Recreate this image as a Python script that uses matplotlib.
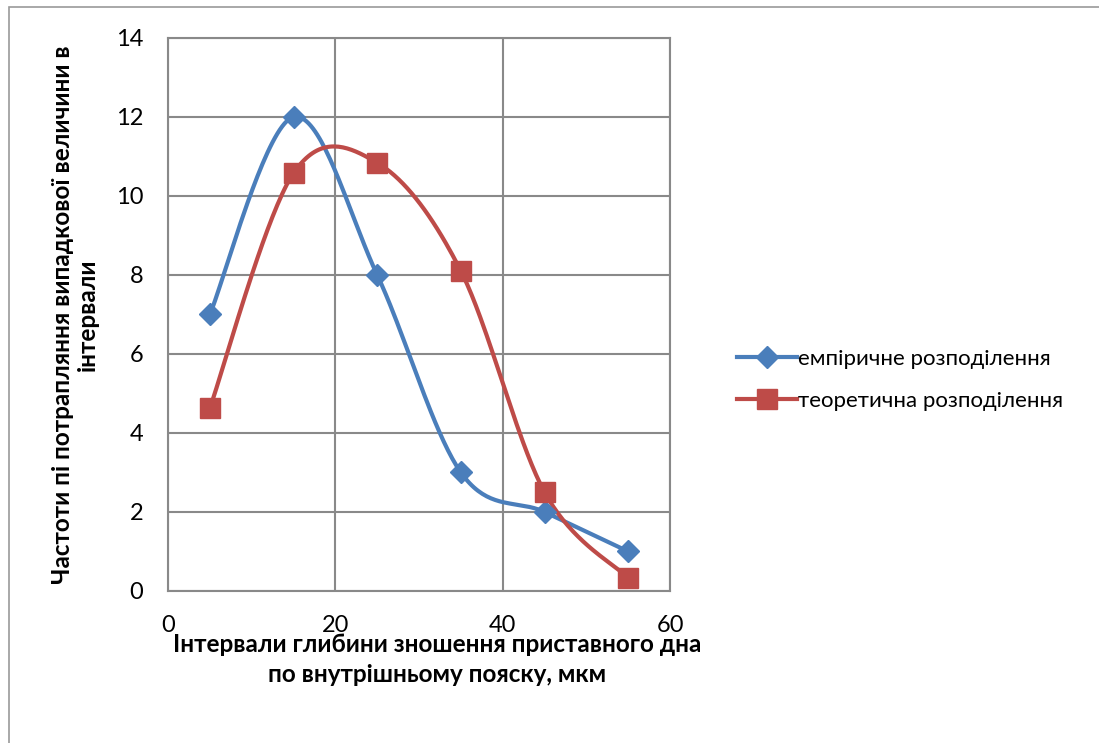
import numpy as np
import matplotlib.pyplot as plt
from matplotlib.lines import Line2D
from matplotlib.patches import Rectangle

plt.rcParams['font.family'] = ['Lato', 'DejaVu Sans']

# interval midpoints and frequencies
intervals = [5, 15, 25, 35, 45, 55]
empirical = [7, 12, 8, 3, 2, 1]
theoretical = [4.63, 10.58, 10.84, 8.1, 2.5, 0.33]

label_emp = 'емпіричне розподілення'
label_theor = 'теоретична розподілення'

BLUE = '#4A7EBB'
RED = '#BE4B48'
GRID = '#898989'


def smooth(xs, ys, n=40):
    # Catmull-Rom style smoothing like a spreadsheet "smoothed line"
    xs = np.asarray(xs, float)
    ys = np.asarray(ys, float)
    px = np.concatenate([[xs[0]], xs, [xs[-1]]])
    py = np.concatenate([[ys[0]], ys, [ys[-1]]])
    out_x, out_y = [], []
    t = np.linspace(0, 1, n)
    for i in range(1, len(px) - 2):
        p0 = np.array([px[i], py[i]])
        p3 = np.array([px[i + 1], py[i + 1]])
        c1 = p0 + (np.array([px[i + 1], py[i + 1]]) - np.array([px[i - 1], py[i - 1]])) / 6
        c2 = p3 - (np.array([px[i + 2], py[i + 2]]) - np.array([px[i], py[i]])) / 6
        b = ((1 - t) ** 3)[:, None] * p0 + (3 * (1 - t) ** 2 * t)[:, None] * c1 \
            + (3 * (1 - t) * t ** 2)[:, None] * c2 + (t ** 3)[:, None] * p3
        out_x.extend(b[:, 0])
        out_y.extend(b[:, 1])
    return out_x, out_y


fig = plt.figure(figsize=(10.99, 7.43), dpi=100)
fig.patches.append(Rectangle((0.008, -0.05), 1.05, 1.04, transform=fig.transFigure,
                             fill=False, edgecolor='#9a9a9a', linewidth=1.2))
ax = fig.add_axes([0.1529, 0.2046, 0.4568, 0.7443])

for ys, color, marker, ms in [(empirical, BLUE, 'D', 11.5), (theoretical, RED, 's', 14)]:
    sx, sy = smooth(intervals, ys)
    ax.plot(sx, sy, color=color, linewidth=3, zorder=3)
    ax.plot(intervals, ys, linestyle='none', marker=marker, markersize=ms,
            color=color, zorder=4)

ax.set_xlim(0, 60)
ax.set_ylim(0, 14)
ax.set_xticks(range(0, 61, 20))
ax.set_yticks(range(0, 15, 2))
ax.grid(True, color=GRID, linewidth=1.5)
ax.set_axisbelow(True)
for s in ax.spines.values():
    s.set_color(GRID)
    s.set_linewidth(1.5)
ax.tick_params(length=0, labelsize=17)
ax.tick_params(axis='y', pad=18)
ax.tick_params(axis='x', pad=17)

ax.set_ylabel('Частоти пі потрапляння випадкової величини в\nінтервали',
              fontsize=17.5, fontweight='bold', labelpad=12, linespacing=1.1)
fig.text(0.398, 0.112, 'Інтервали глибини зношення приставного дна\nпо внутрішньому пояску, мкм',
         fontsize=17.5, fontweight='bold', ha='center', va='center', linespacing=1.35)

handles = [Line2D([], [], color=BLUE, lw=3, marker='D', markersize=11.5),
           Line2D([], [], color=RED, lw=3, marker='s', markersize=14)]
fig.legend(handles, [label_emp, label_theor], loc='center left',
           bbox_to_anchor=(0.652, 0.489), frameon=False, fontsize=16,
           handlelength=2.7, handletextpad=0.05, labelspacing=1.0)

fig.savefig('out.png', dpi=100)
